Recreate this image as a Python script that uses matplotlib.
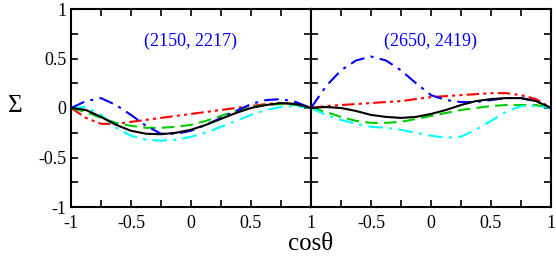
import matplotlib.pyplot as plt
import numpy as np

plt.rcParams['font.family'] = ['Liberation Serif', 'DejaVu Serif']

x = np.array([-1, -0.875, -0.75, -0.625, -0.5, -0.375, -0.25, -0.125, 0,
              0.125, 0.25, 0.375, 0.5, 0.625, 0.75, 0.875, 1])

# left panel (2150, 2217)
black_l = [0, -0.02, -0.09, -0.17, -0.23, -0.26, -0.265, -0.25, -0.22, -0.17, -0.11, -0.05, 0.0, 0.03, 0.05, 0.04, 0]
blue_l = [0, 0.07, 0.1, 0.03, -0.07, -0.18, -0.26, -0.26, -0.23, -0.17, -0.1, -0.03, 0.04, 0.08, 0.09, 0.06, 0]
red_l = [0, -0.1, -0.16, -0.16, -0.14, -0.12, -0.1, -0.08, -0.06, -0.04, -0.02, 0.0, 0.02, 0.04, 0.05, 0.04, 0]
green_l = [0, -0.04, -0.1, -0.15, -0.18, -0.2, -0.2, -0.19, -0.17, -0.13, -0.08, -0.03, 0.01, 0.03, 0.04, 0.03, 0]
cyan_l = [0, 0.01, -0.07, -0.2, -0.28, -0.32, -0.33, -0.32, -0.29, -0.25, -0.19, -0.13, -0.07, -0.02, 0.01, 0.02, 0]

# right panel (2650, 2419)
black_r = [0, 0.01, 0.0, -0.03, -0.07, -0.09, -0.1, -0.09, -0.06, -0.02, 0.03, 0.07, 0.09, 0.1, 0.1, 0.07, 0]
blue_r = [0, 0.22, 0.38, 0.48, 0.52, 0.48, 0.38, 0.25, 0.13, 0.08, 0.06, 0.06, 0.08, 0.1, 0.1, 0.07, 0]
red_r = [0, 0.02, 0.03, 0.04, 0.05, 0.06, 0.07, 0.09, 0.11, 0.12, 0.13, 0.14, 0.15, 0.15, 0.13, 0.09, 0]
green_r = [0, -0.04, -0.09, -0.13, -0.15, -0.15, -0.14, -0.11, -0.08, -0.05, -0.02, 0.0, 0.02, 0.03, 0.03, 0.03, 0]
cyan_r = [0, -0.07, -0.12, -0.16, -0.19, -0.2, -0.22, -0.25, -0.28, -0.3, -0.29, -0.22, -0.13, -0.04, 0.02, 0.02, 0]

fig = plt.figure(figsize=(5.56, 2.63), dpi=100)
ax1 = fig.add_axes([71/556, 1 - 207/263, 240/556, 198/263])
ax2 = fig.add_axes([311/556, 1 - 207/263, 240/556, 198/263])

def draw(ax, bk, bl, rd, gr, cy):
    ax.plot(x, rd, color='red', lw=1.5, dashes=[6, 2, 1.5, 2, 1.5, 2])
    ax.plot(x, gr, color='#00cc00', lw=1.5, dashes=[6, 3])
    ax.plot(x, cy, color='cyan', lw=1.5, dashes=[7, 3, 1.5, 3])
    ax.plot(x, bl, color='blue', lw=1.5, dashes=[7, 3, 1.5, 3])
    ax.plot(x, bk, color='black', lw=1.5)
    ax.set_xlim(-1, 1)
    ax.set_ylim(-1, 1)
    ax.set_xticks(np.arange(-1, 1.01, 0.25))
    ax.set_yticks(np.arange(-1, 1.01, 0.25))
    ax.tick_params(direction='in', length=5, width=1.2, top=True, right=True, labelsize=13)
    for s in ax.spines.values():
        s.set_linewidth(1.5)

draw(ax1, black_l, blue_l, red_l, green_l, cyan_l)
draw(ax2, black_r, blue_r, red_r, green_r, cyan_r)

ax1.set_xticklabels(['-1', '', '-0.5', '', '0', '', '0.5', '', '1'])
ax2.set_xticklabels(['', '', '-0.5', '', '0', '', '0.5', '', '1'])
ax1.set_yticklabels(['-1', '', '-0.5', '', '0', '', '0.5', '', '1'])
ax2.set_yticklabels([])
ax1.tick_params(axis='x', pad=6)
ax2.tick_params(axis='x', pad=6)

ax1.text(0, 0.67, '(2150, 2217)', color='blue', fontsize=13, ha='center', va='center')
ax2.text(0, 0.67, '(2650, 2419)', color='blue', fontsize=13, ha='center', va='center')

fig.text(15/556, 1 - 106/263, 'Σ', fontsize=18, ha='center', va='center')
fig.text(311/556, 1 - 244/263, 'cosθ', fontsize=18, ha='center', va='center')

fig.savefig('out.png', dpi=100)
